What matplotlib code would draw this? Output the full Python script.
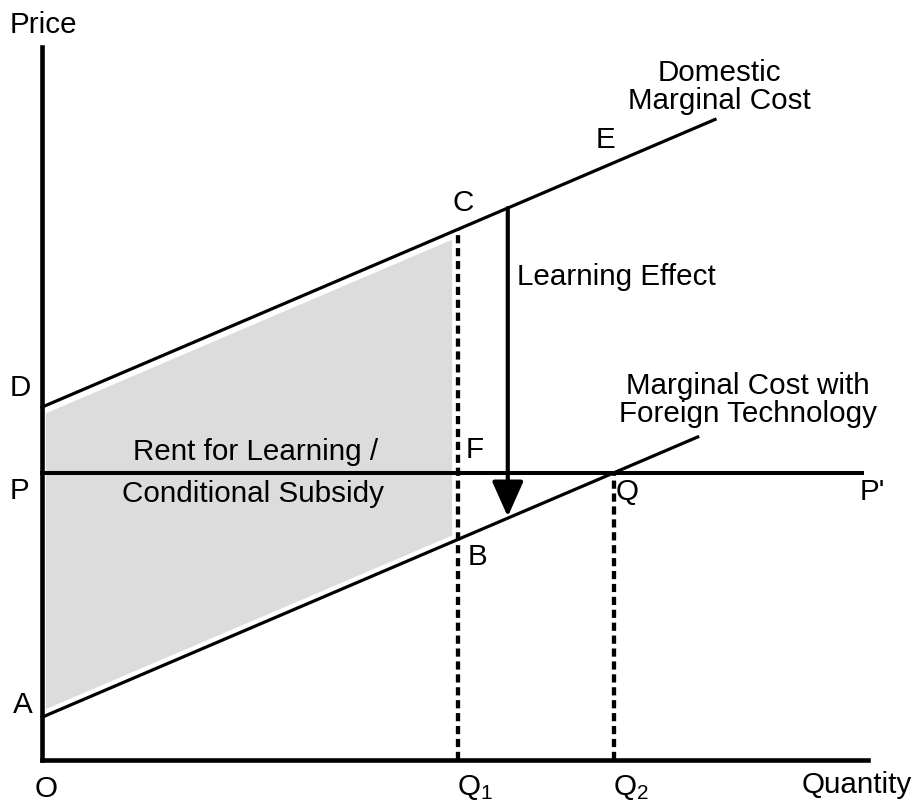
import matplotlib
matplotlib.use("Agg")
import matplotlib.pyplot as plt
import numpy as np

plt.rcParams['font.family'] = ['Liberation Sans', 'DejaVu Sans']
plt.rcParams['mathtext.fontset'] = 'custom'
plt.rcParams['mathtext.rm'] = 'Liberation Sans'
plt.rcParams['mathtext.it'] = 'Liberation Sans:italic'

# curve parameters (price units)
domestic_intercept = 4.95
foreign_intercept = 0.60
mc_slope = 0.495
world_price = 4.03
q1 = 5.04
domestic_end = 8.15
foreign_end = 7.94
price_line_end = 9.93
learning_q = 5.64
axis_len = 10.0

# Q2 is where foreign marginal cost meets the world price
q2 = (world_price - foreign_intercept) / mc_slope


def domestic_mc(q):
    return domestic_intercept + mc_slope * q


def foreign_mc(q):
    return foreign_intercept + mc_slope * q


fig = plt.figure(figsize=(9.14, 8.02), dpi=100)
ax = fig.add_axes([0, 0, 1, 1])
ax.set_xlim(-0.51, 10.56)
ax.set_ylim(-0.59, 10.66)
ax.axis('off')

fs = 21.3
lw_curve = 2.3
lw_axis = 3.3

# shaded rent area
qs = np.array([0.04, q1 - 0.08])
ax.fill_between(qs, foreign_mc(qs) + 0.1, domestic_mc(qs) - 0.1,
                color='#dcdcdc', lw=0, zorder=1)

# axes
ax.plot([0, 0], [0, axis_len], color='k', lw=lw_axis,
        solid_capstyle='projecting', zorder=5)
ax.plot([0, axis_len], [0, 0], color='k', lw=lw_axis,
        solid_capstyle='projecting', zorder=5)

# marginal cost curves
qd = np.array([0, domestic_end])
ax.plot(qd, domestic_mc(qd), color='k', lw=lw_curve, zorder=3)
qf = np.array([0, foreign_end])
ax.plot(qf, foreign_mc(qf), color='k', lw=lw_curve, zorder=3)

# world price line
ax.plot([0, price_line_end], [world_price, world_price], color='k',
        lw=lw_curve + 0.6, zorder=3)

# dashed quantity guides
dash = (0, (1.9, 1.1))
ax.plot([q1, q1], [0, domestic_mc(q1)], color='k', lw=3.1,
        linestyle=dash, dash_capstyle='butt', zorder=2)
ax.plot([q2, q2], [0, world_price], color='k', lw=3.1,
        linestyle=dash, dash_capstyle='butt', zorder=2)

# learning effect arrow
ax.annotate('', xy=(learning_q, foreign_mc(learning_q) + 0.02),
            xytext=(learning_q, domestic_mc(learning_q)),
            arrowprops=dict(arrowstyle='-|>,head_length=0.45,head_width=0.2',
                            lw=3, color='k', mutation_scale=48,
                            shrinkA=0, shrinkB=0), zorder=4)

# labels
ax.text(0.02, 10.31, 'Price', fontsize=fs, ha='center', va='center')
ax.text(9.87, -0.35, 'Quantity', fontsize=fs, ha='center', va='center')
ax.text(0.05, -0.41, 'O', fontsize=fs, ha='center', va='center')
ax.text(-0.27, 5.22, 'D', fontsize=fs, ha='center', va='center')
ax.text(-0.27, 3.77, 'P', fontsize=fs, ha='center', va='center')
ax.text(-0.23, 0.77, 'A', fontsize=fs, ha='center', va='center')
ax.text(q1 - 0.02, -0.38, r'Q$_{\mathrm{1}}$', fontsize=fs, ha='left', va='center')
ax.text(q2 - 0.02, -0.38, r'Q$_{\mathrm{2}}$', fontsize=fs, ha='left', va='center')
ax.text(5.10, 7.81, 'C', fontsize=fs, ha='center', va='center')
ax.text(6.82, 8.70, 'E', fontsize=fs, ha='center', va='center')
ax.text(5.24, 4.35, 'F', fontsize=fs, ha='center', va='center')
ax.text(5.27, 2.85, 'B', fontsize=fs, ha='center', va='center')
ax.text(7.09, 3.76, 'Q', fontsize=fs, ha='center', va='center')
ax.text(10.06, 3.76, "P'", fontsize=fs, ha='center', va='center')
ax.text(8.20, 9.44, 'Domestic\nMarginal Cost', fontsize=fs,
        ha='center', va='center', linespacing=1.0)
ax.text(8.55, 5.05, 'Marginal Cost with\nForeign Technology', fontsize=fs,
        ha='center', va='center', linespacing=0.97)
ax.text(5.75, 6.77, 'Learning Effect', fontsize=fs, ha='left', va='center')
ax.text(2.59, 4.32, 'Rent for Learning /', fontsize=fs, ha='center', va='center')
ax.text(2.55, 3.73, 'Conditional Subsidy', fontsize=fs, ha='center', va='center')

plt.savefig('out.png', dpi=100)
plt.close()
